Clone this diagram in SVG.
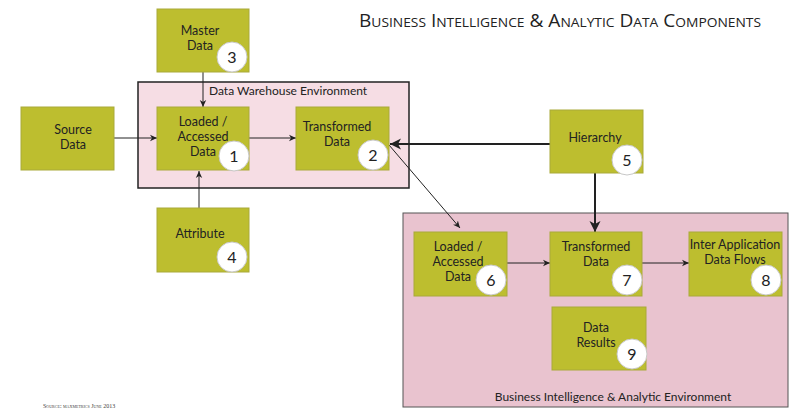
<svg xmlns="http://www.w3.org/2000/svg" width="800" height="417" viewBox="0 0 800 417">
<defs>
<style>
.box{fill:#bdbe2f;stroke:#a9aa3a;stroke-width:1}
.t{font-family:Lato,"Liberation Sans",sans-serif;font-size:12.5px;fill:#222;text-anchor:middle}
.num{font-family:Lato,"Liberation Sans",sans-serif;font-size:16px;fill:#222;text-anchor:middle}
.circ{fill:#fff;stroke:#c8c8c8;stroke-width:1}
.ln{stroke:#222;stroke-width:1;fill:none}
.thick{stroke:#222;stroke-width:2;fill:none}
.env{font-family:Lato,"Liberation Sans",sans-serif;font-size:12px;fill:#222}
</style>
<marker id="ah" markerWidth="8" markerHeight="8" refX="7" refY="4" orient="auto" markerUnits="userSpaceOnUse">
<path d="M0,0.8 L7,4 L0,7.2 L2,4 Z" fill="#222"/>
</marker>
<marker id="ahb" markerWidth="12" markerHeight="12" refX="11" refY="6" orient="auto" markerUnits="userSpaceOnUse">
<path d="M0,0.5 L11,6 L0,11.5 L3,6 Z" fill="#222"/>
</marker>
</defs>
<rect width="800" height="417" fill="#fff"/>
<text x="359" y="27" font-family="'Open Sans','Liberation Sans',sans-serif" font-size="18" font-variant="small-caps" fill="#222" textLength="402" lengthAdjust="spacingAndGlyphs">Business Intelligence &amp; Analytic Data Components</text>
<text x="43" y="408" font-family="'Liberation Serif',serif" font-size="6" font-variant="small-caps" fill="#444">Source: maxmetrics June 2013</text>

<g id="dw-env">
<rect x="138" y="82" width="271" height="106" fill="#f6dde4" stroke="#222" stroke-width="1.5"/>
<text class="env" x="209" y="95">Data Warehouse Environment</text>
</g>
<g id="bi-env">
<rect x="403" y="213" width="385" height="194" fill="#e9c3cf" stroke="#555" stroke-width="1"/>
<text class="env" x="613" y="401" text-anchor="middle">Business Intelligence &amp; Analytic Environment</text>
</g>

<g id="connectors">
<line class="ln" x1="105" y1="138" x2="157" y2="138" marker-end="url(#ah)"/>
<line class="ln" x1="245" y1="138" x2="296" y2="138" marker-end="url(#ah)"/>
<line class="ln" x1="203" y1="57" x2="203" y2="107" marker-end="url(#ah)"/>
<line class="ln" x1="199" y1="210" x2="199" y2="171" marker-end="url(#ah)"/>
<line class="thick" x1="550" y1="144" x2="390" y2="144" marker-end="url(#ahb)"/>
<line class="thick" x1="595" y1="173" x2="595" y2="232" marker-end="url(#ahb)"/>
<line class="ln" x1="389" y1="145" x2="460" y2="228" marker-end="url(#ah)"/>
<line class="ln" x1="503" y1="263" x2="550" y2="263" marker-end="url(#ah)"/>
<line class="ln" x1="642" y1="263" x2="689" y2="263" marker-end="url(#ah)"/>
</g>

<g id="source-data">
<rect class="box" x="21" y="107" width="93" height="63"/>
<text class="t" x="73" y="134">Source</text>
<text class="t" x="73" y="149">Data</text>
</g>
<g id="master-data">
<rect class="box" x="157" y="9" width="92" height="63"/>
<text class="t" x="200" y="35">Master</text>
<text class="t" x="200" y="50">Data</text>
<circle class="circ" cx="232" cy="57" r="15"/>
<text class="num" x="232" y="63">3</text>
</g>
<g id="loaded-1">
<rect class="box" x="157" y="107" width="92" height="63"/>
<text class="t" x="203" y="126">Loaded /</text>
<text class="t" x="203" y="141">Accessed</text>
<text class="t" x="203" y="156">Data</text>
<circle class="circ" cx="234" cy="156" r="15"/>
<text class="num" x="234" y="162">1</text>
</g>
<g id="transformed-2">
<rect class="box" x="296" y="107" width="93" height="63"/>
<text class="t" x="337" y="131">Transformed</text>
<text class="t" x="337" y="146">Data</text>
<circle class="circ" cx="373" cy="155" r="15"/>
<text class="num" x="373" y="161">2</text>
</g>
<g id="attribute">
<rect class="box" x="157" y="208" width="92" height="64"/>
<text class="t" x="200" y="238">Attribute</text>
<circle class="circ" cx="232" cy="257" r="15"/>
<text class="num" x="232" y="263">4</text>
</g>
<g id="hierarchy">
<rect class="box" x="550" y="110" width="93" height="63"/>
<text class="t" x="595" y="142">Hierarchy</text>
<circle class="circ" cx="627" cy="160" r="15"/>
<text class="num" x="627" y="166">5</text>
</g>
<g id="loaded-6">
<rect class="box" x="414" y="232" width="93" height="64"/>
<text class="t" x="458" y="251">Loaded /</text>
<text class="t" x="458" y="266">Accessed</text>
<text class="t" x="458" y="281">Data</text>
<circle class="circ" cx="491" cy="280" r="15"/>
<text class="num" x="491" y="286">6</text>
</g>
<g id="transformed-7">
<rect class="box" x="550" y="232" width="92" height="64"/>
<text class="t" x="596" y="251">Transformed</text>
<text class="t" x="596" y="266">Data</text>
<circle class="circ" cx="627" cy="280" r="15"/>
<text class="num" x="627" y="286">7</text>
</g>
<g id="inter-app-8">
<rect class="box" x="689" y="232" width="93" height="64"/>
<text class="t" x="735" y="249">Inter Application</text>
<text class="t" x="735" y="264">Data Flows</text>
<circle class="circ" cx="766" cy="280" r="15"/>
<text class="num" x="766" y="286">8</text>
</g>
<g id="data-results-9">
<rect class="box" x="552" y="307" width="94" height="63"/>
<text class="t" x="596" y="332">Data</text>
<text class="t" x="596" y="347">Results</text>
<circle class="circ" cx="632" cy="354" r="15"/>
<text class="num" x="632" y="360">9</text>
</g>
</svg>
